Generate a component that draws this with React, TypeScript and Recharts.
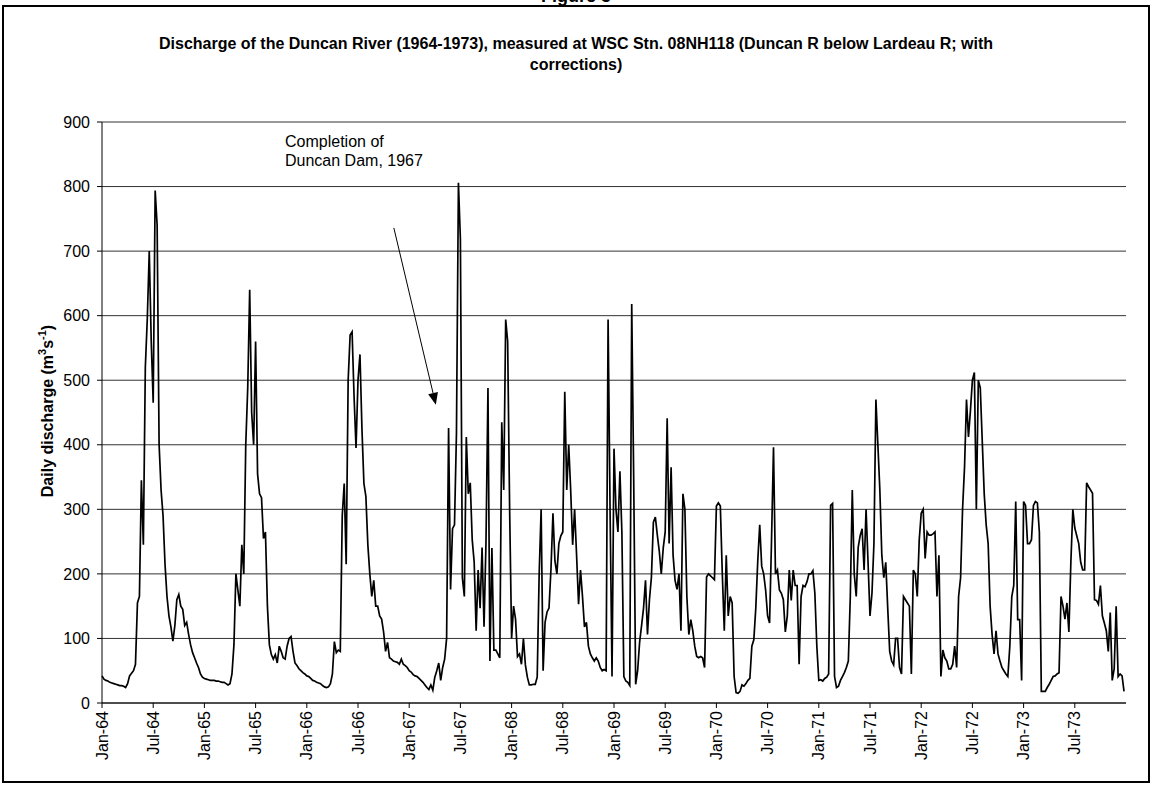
import React from 'react';
import { LineChart, Line, XAxis, YAxis, CartesianGrid } from 'recharts';

// weekly discharge readings (m3/s), one array per calendar year
const years = [1964, 1965, 1966, 1967, 1968, 1969, 1970, 1971, 1972, 1973];

const q1964 = [42,37,35,34,32,31,30,29,28,27,27,26,24,30,42,46,50,60,155,165,345,245,520,595,700,560,465,794,740,400,330,290,215,165,135,118,96,120,160,168,150,145,120,125,106,90,78,70,62,55,45,40];
const q1965 = [38,37,36,35,35,35,34,34,33,32,32,30,28,30,45,90,200,175,150,245,200,400,488,640,450,400,560,355,324,318,255,265,150,90,75,68,75,62,88,80,70,68,88,100,103,80,62,58,53,50,47,45];
const q1966 = [42,41,38,35,34,32,31,30,27,25,24,25,30,45,95,78,82,80,290,340,215,500,570,575,475,395,500,540,425,340,320,245,200,165,190,150,150,135,130,110,80,94,70,68,65,64,63,60,68,60,58,55];
const q1967 = [50,48,44,42,41,38,35,32,28,24,21,28,20,40,50,62,35,55,68,100,426,176,270,276,418,806,718,194,165,412,324,341,253,218,112,206,147,241,118,250,488,65,240,82,82,76,70,435,330,594,560,300];
const q1968 = [100,150,130,72,76,60,100,59,40,28,28,29,29,40,200,300,50,125,141,147,208,294,220,200,247,259,265,482,330,400,330,245,300,229,153,206,165,118,125,88,76,70,65,70,65,55,50,52,50,594,300,41];
const q1969 = [394,300,265,359,265,41,34,32,27,618,347,29,50,94,120,147,190,106,160,195,280,288,260,235,200,240,265,441,247,365,229,190,176,200,112,324,300,165,106,129,112,88,72,70,72,70,55,195,200,197,194,191];
const q1970 = [305,310,305,200,112,229,135,165,155,41,16,15,18,28,26,30,35,38,88,98,147,220,276,212,200,175,135,124,253,396,200,206,175,170,160,110,135,206,159,206,182,182,60,165,182,180,188,200,200,205,170,88];
const q1971 = [35,36,34,38,40,45,306,309,41,24,26,35,41,47,55,65,165,330,200,165,241,259,270,206,300,218,135,170,247,470,400,330,229,194,218,147,80,65,59,100,100,55,45,165,160,155,150,45,206,200,165,253];
const q1972 = [294,300,224,265,260,260,262,265,165,229,41,82,70,65,53,53,60,88,55,165,194,300,365,470,412,453,500,512,300,500,488,406,324,276,247,150,106,76,112,76,65,55,50,45,41,88,165,182,312,129,129,35];
const q1973 = [312,306,247,247,253,306,312,310,265,18,18,18,24,29,35,41,42,45,47,165,150,130,155,110,218,300,271,259,247,218,206,206,341,335,330,325,160,159,153,182,135,124,112,80,140,35,53,150,41,45,42,18];

const weekly = [q1964, q1965, q1966, q1967, q1968, q1969, q1970, q1971, q1972, q1973];

const tickLabels = ['Jan-64','Jul-64','Jan-65','Jul-65','Jan-66','Jul-66','Jan-67','Jul-67','Jan-68','Jul-68','Jan-69','Jul-69','Jan-70','Jul-70','Jan-71','Jul-71','Jan-72','Jul-72','Jan-73','Jul-73'];
const yTicks = [0, 100, 200, 300, 400, 500, 600, 700, 800, 900];

// annotation: text + arrow pointing at mid-1967, in data units
const noteLines = ['Completion of', 'Duncan Dam, 1967'];
const arrowFrom = { t: 1966.85, q: 736 };
const arrowTo = { t: 1967.26, q: 462 };

const data = years.flatMap((yr, k) => weekly[k].map((q, i) => ({ t: yr + i / 52, q })));
const tickPos = tickLabels.map((_, i) => 1964 + i / 2);

const W = 1153;
const H = 789;
const plot = { left: 102, right: 1126, top: 122, bottom: 703 };
const font = '"Liberation Sans", Arial, sans-serif';

const px = (t: number) => plot.left + ((t - 1964) / 10) * (plot.right - plot.left);
const py = (q: number) => plot.bottom - (q / 900) * (plot.bottom - plot.top);

const XTick = (props: any) => {
  const { x, y, payload } = props;
  const i = tickPos.indexOf(payload.value);
  return (
    <text
      x={x}
      y={y}
      transform={`rotate(-90 ${x} ${y})`}
      textAnchor="end"
      dominantBaseline="central"
      fontFamily={font}
      fontSize={16}
      fill="#000"
    >
      {i >= 0 ? tickLabels[i] : ''}
    </text>
  );
};

function Arrow() {
  const x1 = px(arrowFrom.t), y1 = py(arrowFrom.q);
  const x2 = px(arrowTo.t), y2 = py(arrowTo.q);
  const a = Math.atan2(y2 - y1, x2 - x1);
  const len = 12, half = 5;
  const bx = x2 - len * Math.cos(a), by = y2 - len * Math.sin(a);
  const p1 = `${bx + half * Math.sin(a)},${by - half * Math.cos(a)}`;
  const p2 = `${bx - half * Math.sin(a)},${by + half * Math.cos(a)}`;
  return (
    <g>
      <line x1={x1} y1={y1} x2={bx} y2={by} stroke="#000" strokeWidth={1} />
      <polygon points={`${x2},${y2} ${p1} ${p2}`} fill="#000" />
    </g>
  );
}

export default function App() {
  return (
    <div style={{ position: 'absolute', left: 0, top: 0, width: W, height: H, background: '#fff' }}>
      <LineChart
        width={W}
        height={H}
        data={data}
        margin={{ top: plot.top, right: W - plot.right, bottom: 6, left: 0 }}
      >
        <CartesianGrid vertical={false} stroke="#333" strokeWidth={1} />
        <XAxis
          dataKey="t"
          type="number"
          domain={[1964, 1974]}
          ticks={tickPos}
          interval={0}
          height={H - 6 - plot.bottom}
          tickSize={5}
          tickMargin={3}
          tick={<XTick />}
          axisLine={{ stroke: '#000' }}
          tickLine={{ stroke: '#000' }}
        />
        <YAxis
          type="number"
          domain={[0, 900]}
          ticks={yTicks}
          interval={0}
          width={plot.left}
          tickSize={5}
          tickMargin={7}
          tick={{ fontFamily: font, fontSize: 16, fill: '#000' }}
          axisLine={{ stroke: '#000' }}
          tickLine={{ stroke: '#000' }}
        />
        <Line
          type="linear"
          dataKey="q"
          stroke="#000"
          strokeWidth={1.7}
          dot={false}
          isAnimationActive={false}
        />
      </LineChart>

      <svg
        width={W}
        height={H}
        style={{ position: 'absolute', left: 0, top: 0, pointerEvents: 'none' }}
      >
        <text x={576} y={2} textAnchor="middle" fontFamily={font} fontWeight="bold" fontSize={18}>
          Figure 3
        </text>
        <text x={576} y={49} textAnchor="middle" fontFamily={font} fontWeight="bold" fontSize={16}>
          Discharge of the Duncan River (1964-1973), measured at WSC Stn. 08NH118 (Duncan R below Lardeau R; with
        </text>
        <text x={576} y={70} textAnchor="middle" fontFamily={font} fontWeight="bold" fontSize={16}>
          corrections)
        </text>
        <text
          x={47}
          y={411}
          transform="rotate(-90 47 411)"
          textAnchor="middle"
          dominantBaseline="central"
          fontFamily={font}
          fontWeight="bold"
          fontSize={16}
        >
          Daily discharge (m<tspan dy={-5} fontSize={11}>3</tspan>
          <tspan dy={5}>s</tspan>
          <tspan dy={-5} fontSize={11}>-1</tspan>
          <tspan dy={5}>)</tspan>
        </text>
        {noteLines.map((s, i) => (
          <text key={s} x={285} y={147 + i * 19} fontFamily={font} fontSize={16} fill="#000">
            {s}
          </text>
        ))}
        <Arrow />
      </svg>

      <div
        style={{
          position: 'absolute',
          left: 2,
          top: 5,
          width: 1148,
          height: 778,
          border: '2px solid #000',
          boxSizing: 'border-box',
          pointerEvents: 'none',
        }}
      />
    </div>
  );
}
